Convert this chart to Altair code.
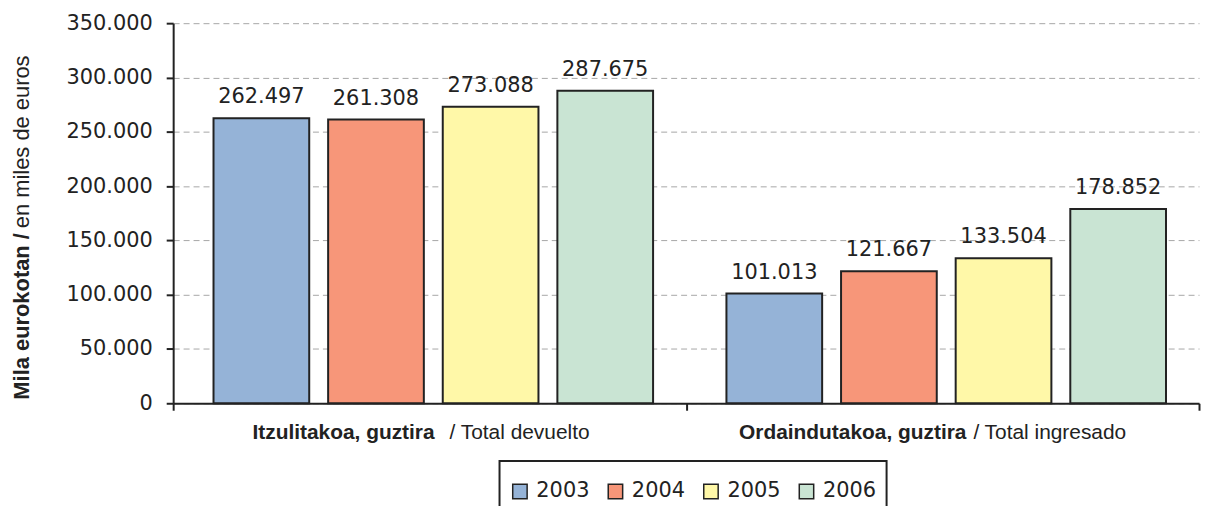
import altair as alt
import pandas as pd

categories = ["Itzulitakoa, guztira", "Ordaindutakoa, guztira"]
regular_labels = ["/   Total devuelto", "/  Total ingresado"]
years = ["2003", "2004", "2005", "2006"]
devuelto = [262497, 261308, 273088, 287675]
ingresado = [101013, 121667, 133504, 178852]
colors = ["#95B3D7", "#F79679", "#FFF8A8", "#C9E4D3"]
ytitle_bold = "Mila eurokotan /"
ytitle_regular = "en miles de euros"

rows = []
for cat, vals in zip(categories, [devuelto, ingresado]):
    for yr, v in zip(years, vals):
        rows.append({"cat": cat, "year": yr, "value": v,
                     "label": f"{v:,}".replace(",", ".")})
df = pd.DataFrame(rows)
cat_df = pd.DataFrame({"cat": categories, "bold": categories, "regular": regular_labels})
title_df = pd.DataFrame({"bold": [ytitle_bold], "regular": [ytitle_regular]})

NUMFONT = "DejaVu Sans"
TXTFONT = "Liberation Sans"
INK = "#222222"

x = alt.X("cat:N", sort=categories,
          scale=alt.Scale(paddingInner=0, paddingOuter=0),
          axis=alt.Axis(title=None, labels=False, tickBand="extent",
                        domainColor=INK, domainWidth=2, tickColor=INK,
                        tickWidth=2, tickSize=7, grid=False))
xoff = alt.XOffset("year:N", sort=years,
                   scale=alt.Scale(paddingInner=0.165, paddingOuter=0.32, align=0.55))
y = alt.Y("value:Q", scale=alt.Scale(domain=[0, 350000], nice=False),
          axis=alt.Axis(title=None, values=list(range(0, 350001, 50000)),
                        labelExpr="replace(format(datum.value, ',d'), ',', '.')",
                        grid=True, gridDash=[6, 4], gridColor="#a6a6a6", gridWidth=1,
                        domainColor=INK, domainWidth=2, tickColor=INK, tickWidth=2,
                        tickSize=7, labelPadding=14, labelFont=NUMFONT,
                        labelFontSize=21, labelColor=INK))
color = alt.Color("year:N", sort=years,
                  scale=alt.Scale(domain=years, range=colors),
                  legend=alt.Legend(title=" ", titleFontSize=5, titlePadding=5,
                                    orient="none", legendX=328, legendY=440,
                                    direction="horizontal", padding=10,
                                    strokeColor=INK, symbolType="square",
                                    symbolSize=210, symbolStrokeColor=INK,
                                    symbolStrokeWidth=1.5, labelFont=NUMFONT,
                                    labelFontSize=21, labelColor=INK,
                                    labelOffset=6, columnPadding=15))

base = alt.Chart(df)
bars = base.mark_bar(stroke=INK, strokeWidth=2).encode(x=x, xOffset=xoff, y=y, color=color)
labels = base.mark_text(baseline="alphabetic", dy=-15, font=NUMFONT, fontSize=21,
                        color=INK).encode(x=x, xOffset=xoff, y=y, text="label:N")

cat_base = alt.Chart(cat_df)
def cat_text(idx, field, align, dx, bold):
    return cat_base.transform_filter(
        alt.datum.cat == categories[idx]
    ).mark_text(align=align, baseline="alphabetic", dx=dx, font=TXTFONT,
                fontSize=21,
                fontWeight="bold" if bold else "normal", color=INK).encode(
        x=alt.X("cat:N", sort=categories), y=alt.value(418), text=f"{field}:N")

cat_layers = [
    cat_text(0, "bold", "right", 5, True),
    cat_text(0, "regular", "left", 20, False),
    cat_text(1, "bold", "right", 24, True),
    cat_text(1, "regular", "left", 31, False),
]

tbase = alt.Chart(title_df)
ttl_bold = tbase.mark_text(angle=270, align="right", baseline="middle", font=TXTFONT,
                           fontSize=22, fontWeight="bold", color=INK).encode(
    x=alt.value(-152), y=alt.value(211), text="bold:N")
ttl_reg = tbase.mark_text(angle=270, align="left", baseline="middle", font=TXTFONT,
                          fontSize=22, color=INK).encode(
    x=alt.value(-152), y=alt.value(206), text="regular:N")

chart = alt.layer(bars, labels, *cat_layers, ttl_bold, ttl_reg).properties(
    width=1031, height=382,
    autosize=alt.AutoSizeParams(type="none"),
    padding={"left": 166, "top": 14, "right": 2, "bottom": 102},
).configure_view(stroke=None).configure_legend(strokeWidth=2)

chart.save("out.html", embed_options={"renderer": "svg", "actions": False})
